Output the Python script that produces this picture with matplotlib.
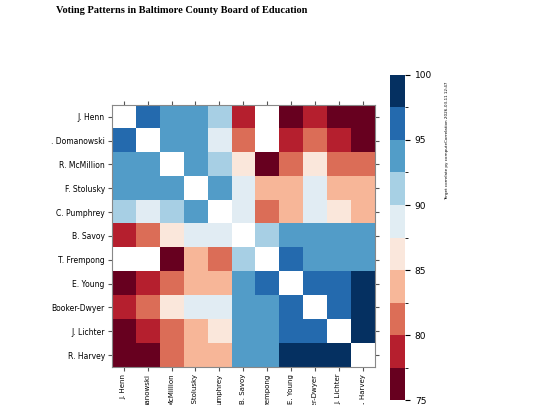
import numpy as np
import matplotlib.pyplot as plt
from matplotlib.colors import ListedColormap, BoundaryNorm

names_y = ['J. Henn', '. Domanowski', 'R. McMillion', 'F. Stolusky', 'C. Pumphrey', 'B. Savoy',
           'T. Frempong', 'E. Young', 'Booker-Dwyer', 'J. Lichter', 'R. Harvey']
# x labels as far as they show in the picture (long names run off the bottom)
names_x = ['J. Henn', 'nanowski', 'McMillion', '. Stolusky', 'umphrey', 'B. Savoy',
           'rempong', 'E. Young', 'zer-Dwyer', 'J. Lichter', 'R. Harvey']

# percent agreement (nan = diagonal / no data)
n = np.nan
agree = np.array([
    [n, 96, 94, 94, 91, 79, n, 76, 79, 76, 76],
    [96, n, 94, 94, 89, 81, n, 79, 81, 79, 76],
    [94, 94, n, 94, 91, 86, 76, 81, 86, 81, 81],
    [94, 94, 94, n, 94, 89, 84, 84, 89, 84, 84],
    [91, 89, 91, 94, n, 89, 81, 84, 89, 86, 84],
    [79, 81, 86, 89, 89, n, 91, 94, 94, 94, 94],
    [n, n, 76, 84, 81, 91, n, 96, 94, 94, 94],
    [76, 79, 81, 84, 84, 94, 96, n, 96, 96, 99],
    [79, 81, 86, 89, 89, 94, 94, 96, n, 96, 99],
    [76, 79, 81, 84, 86, 94, 94, 96, 96, n, 99],
    [76, 76, 81, 84, 84, 94, 94, 99, 99, 99, n],
])

fig = plt.figure(figsize=(5.4, 4.05), dpi=100)
ax = fig.add_axes([0.207, 0.094, 0.487, 0.647])
cax = fig.add_axes([0.722, 0.012, 0.028, 0.803])

levels = np.linspace(75, 100, 11)
cmap = ListedColormap(plt.get_cmap('RdBu')(np.linspace(0, 1, 10)))
norm = BoundaryNorm(levels, cmap.N)
im = ax.imshow(np.ma.masked_invalid(agree), cmap=cmap, norm=norm, aspect='auto')

ax.set_xticks(range(len(names_x)))
ax.set_xticklabels(names_x, rotation=90, fontsize=5)
ax.set_yticks(range(len(names_y)))
ax.set_yticklabels(names_y, fontsize=5.5)
ax.tick_params(top=True, right=True, length=3, pad=2, color='#555555')
for s in ax.spines.values():
    s.set_color('#888888')

cb = fig.colorbar(im, cax=cax, ticks=[75, 80, 85, 90, 95, 100])
cb.ax.tick_params(labelsize=6.5)
cb.outline.set_visible(False)

fig.text(0.337, 0.985, 'Voting Patterns in Baltimore County Board of Education',
         ha='center', va='top', family='Liberation Serif', weight='bold', fontsize=7.5)
fig.text(0.828, 0.80, 'Terget correlate py computeCorrelation 2026-03-11 12:47',
         rotation=90, ha='center', va='top', fontsize=3)

fig.savefig('out.png')
